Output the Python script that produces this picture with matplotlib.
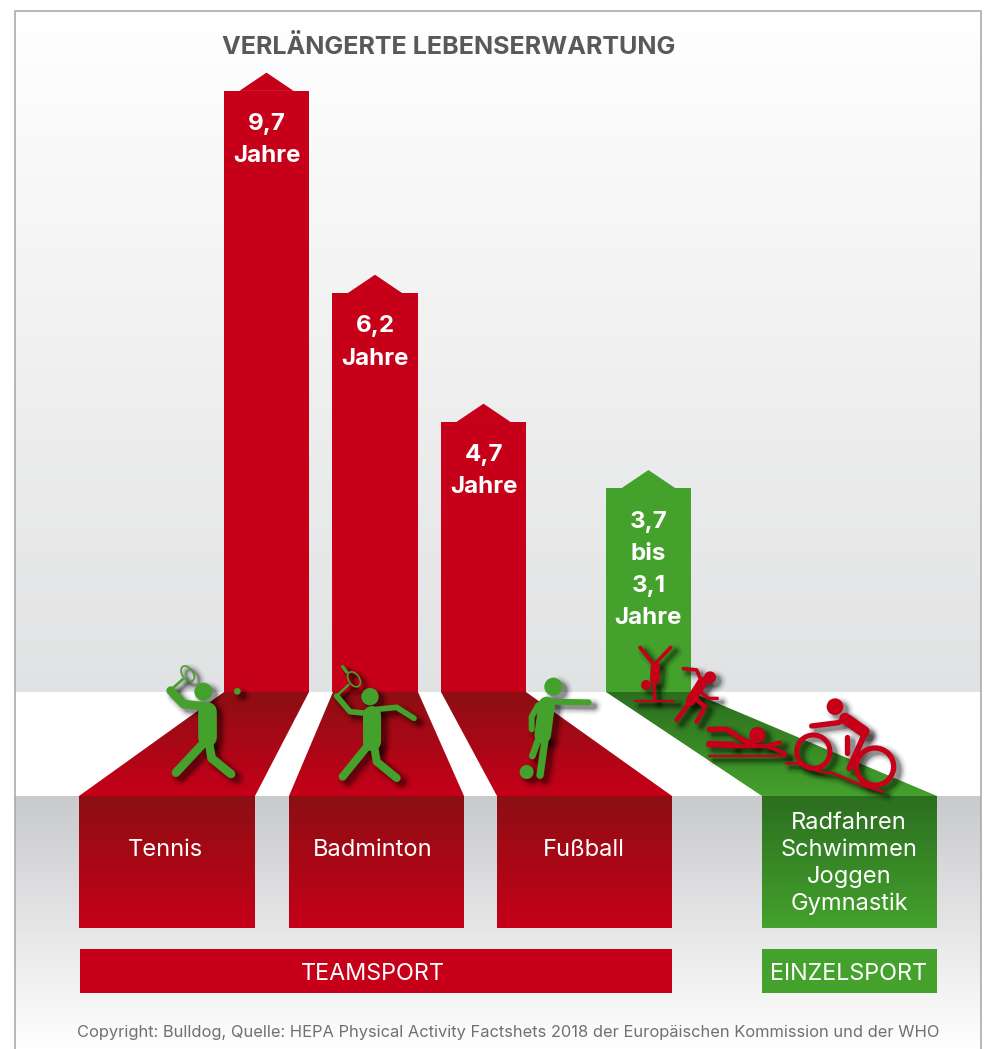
import numpy as np
import matplotlib
matplotlib.use("Agg")
import matplotlib.pyplot as plt
from matplotlib.patches import Polygon, Circle, Ellipse
from matplotlib.colors import LinearSegmentedColormap
plt.rcParams['font.family'] = ['Inter', 'DejaVu Sans']

W, H = 991, 1049
# ---- data ----
bar_labels = [["9,7", "Jahre"], ["6,2", "Jahre"], ["4,7", "Jahre"], ["3,7", "bis", "3,1", "Jahre"]]
bar_heights = [9.70, 6.44, 4.36, 3.29]      # drawn heights
bar_positions = [0, 1, 2, 3.52]
sports = ["Tennis", "Badminton", "Fußball"]
einzel_sports = ["Radfahren", "Schwimmen", "Joggen", "Gymnastik"]
groups = ["TEAMSPORT", "EINZELSPORT"]
title = "VERLÄNGERTE LEBENSERWARTUNG"
credit = "Copyright: Bulldog, Quelle: HEPA Physical Activity Factshets 2018 der Europäischen Kommission und der WHO"

RED, GREEN = "#c70019", "#44a12c"
DRED, DGREEN = "#8c0f13", "#2c6e20"
PX = 0.72

fig = plt.figure(figsize=(W/100, H/100), dpi=100, facecolor="white")

def px_axes(z):
    a = fig.add_axes([0, 0, 1, 1], zorder=z)
    a.set_xlim(0, W); a.set_ylim(H, 0); a.axis("off"); a.patch.set_alpha(0)
    return a

def grad(a, x0, x1, y0, y1, c0, c1, clip=None, z=1):
    cm = LinearSegmentedColormap.from_list("g", [c0, c1])
    im = a.imshow(np.linspace(0, 1, 256).reshape(-1, 1), cmap=cm, extent=[x0, x1, y1, y0],
                  aspect="auto", interpolation="bilinear", zorder=z)
    if clip is not None:
        p = Polygon(clip, closed=True, transform=a.transData, fc="none", ec="none")
        a.add_patch(p); im.set_clip_path(p)
    a.set_xlim(0, W); a.set_ylim(H, 0)
    return im

# ---- backdrop ----
bg = px_axes(0)
grad(bg, 15, 981, 11, 692, "#ffffff", "#e1e2e3")
grad(bg, 15, 981, 796, 1049, "#c9cacc", "#ffffff")
bg.plot([14.5, 14.5, 981, 981], [1049, 10.5, 10.5, 1049], color="#a8a8a8", lw=1.6*PX, zorder=3)

# ---- bars (value axes) ----
SCALE_Y, SCALE_X, BASE_Y, BASE_X = 62.0, 108.5, 692.0, 266.5
ax = fig.add_axes([0, 0, 1, 1], zorder=1)
ax.set_xlim(-BASE_X/SCALE_X, (W-BASE_X)/SCALE_X)
ax.set_ylim((BASE_Y-H)/SCALE_Y, BASE_Y/SCALE_Y)
ax.axis("off"); ax.patch.set_alpha(0)
bar_colors = [RED, RED, RED, GREEN]
ax.bar(bar_positions, bar_heights, width=0.785, color=bar_colors, linewidth=0)
for xp, hv, c in zip(bar_positions, bar_heights, bar_colors):
    ax.fill([xp-0.25, xp, xp+0.25], [hv-0.005, hv+0.29, hv-0.005], color=c, lw=0)
for xp, hv, labs in zip(bar_positions, bar_heights, bar_labels):
    for i, s in enumerate(labs):
        ax.text(xp, hv - (33.5 + 32.3*i)/SCALE_Y, s, ha="center", va="center", color="white",
                fontsize=17.4, fontweight="bold")

# ---- floor, panels ----
ov = px_axes(2)
trap = [((224, 309), (79, 255)), ((333, 418), (289, 464)), ((441, 526), (497, 672)), ((606, 691), (762, 937))]
for i, ((t0, t1), (b0, b1)) in enumerate(trap):
    c0, c1 = (DGREEN, GREEN) if i == 3 else (DRED, "#c60019")
    grad(ov, min(t0, b0), max(t1, b1), 692, 796, c0, c1, clip=[(t0, 692), (t1, 692), (b1, 796), (b0, 796)])
    grad(ov, b0, b1, 796, 928, c0, c1)
ov.fill([80, 672, 672, 80], [949, 949, 993, 993], color=RED, lw=0, zorder=2)
ov.fill([762, 937, 937, 762], [949, 949, 993, 993], color=GREEN, lw=0, zorder=2)

# ---- icons ----
def Z1(p): return (150 + p[0]/3, 650 + p[1]/3)
def Z2(p): return (500 + p[0]/3, 640 + p[1]/3)

def icon(strokes, discs, rings, color, conv, off=(5, 4)):
    levels = [(11, .04), (8, .06), (5, .09), (2.5, .13), (0, .2)]
    for grow, al in levels:
        for pts, lw in strokes:
            q = np.array([conv(p) for p in pts])
            ov.plot(q[:, 0]+off[0], q[:, 1]+off[1], color="k", alpha=al, lw=(lw/3+grow)*PX,
                    solid_capstyle="round", solid_joinstyle="round", zorder=4)
        for c, r in discs:
            x, y = conv(c)
            ov.add_patch(Circle((x+off[0], y+off[1]), r/3+grow/2, fc="k", alpha=al, lw=0, zorder=4))
        for c, w, h, ang, lw in rings:
            x, y = conv(c)
            ov.add_patch(Ellipse((x+off[0], y+off[1]), w/3, h/3, angle=ang, fc="none", ec="k", alpha=al,
                                 lw=(lw/3+grow)*PX, zorder=4))
    for pts, lw in strokes:
        q = np.array([conv(p) for p in pts])
        ov.plot(q[:, 0], q[:, 1], color=color, lw=lw/3*PX, solid_capstyle="round",
                solid_joinstyle="round", zorder=5)
    for c, r in discs:
        ov.add_patch(Circle(conv(c), r/3, fc=color, lw=0, zorder=5))
    for c, w, h, ang, lw in rings:
        x, y = conv(c)
        ov.add_patch(Ellipse((x, y), w/3, h/3, angle=ang, fc="none", ec=color, lw=lw/3*PX, zorder=5))

# tennis
icon([([(172, 182), (172, 262)], 56), ([(160, 280), (78, 368)], 26), ([(178, 285), (185, 325), (243, 372)], 26),
      ([(170, 170), (100, 162), (62, 122)], 26), ([(60, 122), (98, 88)], 8)],
     [((160, 125), 27), ((262, 124), 10)], [((113, 71), 32, 52, -35, 5)], GREEN, Z1)
# badminton
icon([([(665, 195), (665, 275)], 54), ([(655, 285), (578, 380)], 24), ([(672, 285), (680, 335), (740, 384)], 24),
      ([(650, 190), (600, 185), (560, 138)], 17), ([(560, 138), (595, 105)], 7),
      ([(680, 178), (740, 172), (792, 205)], 17), ([(578, 50), (590, 66)], 10)],
     [((660, 140), 26)], [((612, 88), 32, 50, -35, 5)], GREEN, Z1)
# football
icon([([(140, 195), (128, 285)], 50), ([(118, 290), (97, 348)], 20), ([(135, 300), (120, 406)], 22),
      ([(150, 185), (266, 187)], 18), ([(115, 195), (95, 230), (95, 268)], 18)],
     [((160, 140), 27), ((80, 396), 21)], [], GREEN, Z2)
# gymnast
icon([([(420, 22), (462, 75), (512, 22)], 11), ([(466, 80), (464, 120)], 28), ([(463, 130), (463, 180)], 10),
      ([(405, 183), (523, 183)], 7)], [((438, 135), 15)], [], RED, Z2)
# runner
icon([([(608, 125), (572, 182)], 30), ([(550, 86), (590, 90), (605, 125)], 11),
      ([(595, 150), (625, 175), (652, 175)], 10), ([(575, 180), (530, 240)], 14),
      ([(585, 175), (615, 200), (590, 245)], 14)], [((630, 112), 18)], [], RED, Z2)
# swimmer
icon([([(628, 268), (680, 268), (725, 298), (760, 312)], 16), ([(628, 312), (700, 315)], 20),
      ([(700, 318), (800, 318), (840, 308)], 14), ([(800, 318), (855, 340)], 12),
      ([(628, 349), (858, 349)], 7)], [((772, 285), 24)], [], RED, Z2)
# cyclist
icon([([(1035, 235), (1092, 275)], 34), ([(935, 258), (1015, 248), (1040, 235)], 16),
      ([(1095, 280), (1048, 385)], 18), ([(1040, 290), (1040, 340)], 16),
      ([(858, 370), (890, 370), (960, 395), (1000, 400), (1060, 425), (1100, 440), (1148, 455)], 8)],
     [((1005, 200), 25)], [((940, 335), 100, 100, 0, 15), ((1125, 380), 112, 112, 0, 16)], RED, Z2)

# ---- text ----
def txt(x, y, s, **k):
    k.setdefault("ha", "center"); k.setdefault("va", "center"); k.setdefault("color", "white")
    k.setdefault("zorder", 6)
    return ov.text(x, y, s, **k)

txt(449, 47, title, color="#58595b", fontsize=18.1, fontweight="bold")
for x, s in zip([165, 373, 584], sports):
    txt(x, 849.5, s, fontsize=17.0)
for y, s in zip([823, 850, 876.5, 903.5], einzel_sports):
    txt(849, y, s, fontsize=17.0)
txt(373, 974.5, groups[0], fontsize=16.8)
txt(849, 974.5, groups[1], fontsize=16.8)
txt(508, 1032, credit, color="#6f7072", fontsize=11.85)

fig.savefig("out.png", dpi=100)
